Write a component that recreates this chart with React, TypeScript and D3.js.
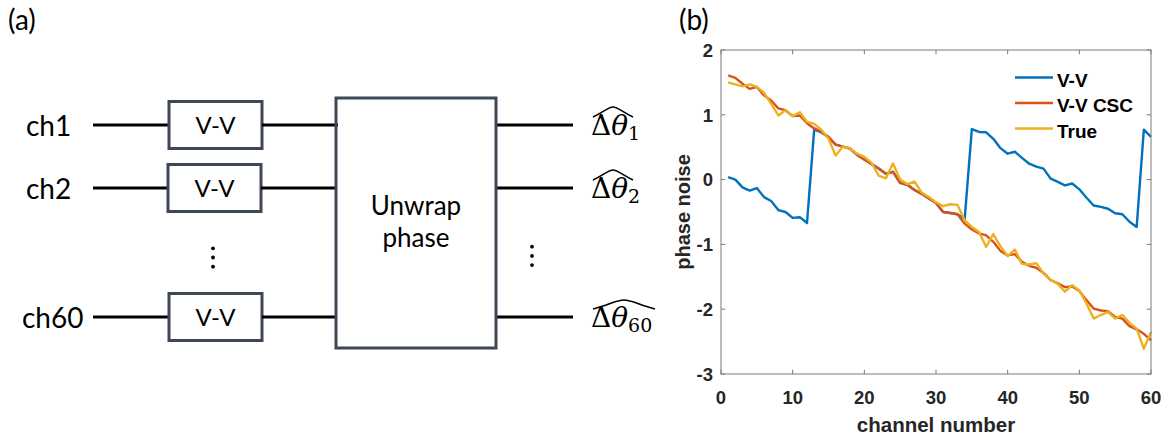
import React from "react";
import * as d3 from "d3";

// Phase-noise estimates per channel (radians)
const channelNumbers = d3.range(1, 61);

const vvPhase = [
  0.04, 0.0, -0.12, -0.17, -0.13, -0.27, -0.33, -0.47, -0.5, -0.59,
  -0.58, -0.67, 0.77, 0.73, 0.65, 0.54, 0.51, 0.48, 0.38, 0.31,
  0.24, 0.17, 0.09, 0.12, -0.05, -0.08, -0.16, -0.22, -0.29, -0.36,
  -0.5, -0.515, -0.535, -0.61, 0.78, 0.735, 0.73, 0.63, 0.485, 0.4,
  0.43, 0.335, 0.245, 0.2, 0.17, 0.015, -0.035, -0.09, -0.06, -0.15,
  -0.28, -0.4, -0.42, -0.45, -0.52, -0.535, -0.65, -0.73, 0.77, 0.66,
];

const vvCscPhase = [
  1.61, 1.57, 1.48, 1.4, 1.43, 1.3, 1.22, 1.1, 1.07, 0.98,
  0.99, 0.87, 0.79, 0.74, 0.66, 0.54, 0.51, 0.48, 0.38, 0.31,
  0.24, 0.17, 0.09, 0.12, -0.05, -0.08, -0.16, -0.22, -0.29, -0.36,
  -0.5, -0.515, -0.535, -0.68, -0.77, -0.83, -0.86, -0.96, -1.1, -1.17,
  -1.15, -1.27, -1.33, -1.36, -1.44, -1.55, -1.6, -1.66, -1.65, -1.72,
  -1.86, -1.99, -2.02, -2.03, -2.12, -2.145, -2.26, -2.31, -2.38, -2.48,
];

const truePhase = [
  1.5, 1.47, 1.44, 1.47, 1.43, 1.34, 1.17, 0.99, 1.07, 0.98,
  1.04, 0.89, 0.86, 0.77, 0.63, 0.37, 0.51, 0.48, 0.4, 0.35,
  0.26, 0.06, 0.02, 0.25, 0.0, -0.07, -0.03, -0.2, -0.27, -0.35,
  -0.41, -0.38, -0.39, -0.63, -0.73, -0.81, -1.04, -0.84, -1.03, -1.18,
  -1.08, -1.3, -1.31, -1.29, -1.45, -1.55, -1.61, -1.73, -1.63, -1.71,
  -1.91, -2.145, -2.09, -2.04, -2.145, -2.09, -2.21, -2.3, -2.61, -2.35,
];

const seriesNames = ["V-V", "V-V CSC", "True"];
const seriesColors = ["#0072BD", "#D95319", "#EDB120"];
const xTicks = [0, 10, 20, 30, 40, 50, 60];
const yTicks = [-3, -2, -1, 0, 1, 2];

// Block diagram labels
const inputLabels = ["ch1", "ch2", "ch60"];
const outputSubscripts = ["1", "2", "60"];

const W = 1169;
const H = 436;

const plot = { left: 721, right: 1151, top: 50, bottom: 374 };

const chartFont = "'Liberation Sans', Arial, sans-serif";
const diagramFont = "Lato, 'Open Sans', sans-serif";
const mathFont = "'DejaVu Serif', 'Liberation Serif', serif";

function Hat({ x0, x1, yb, yt }: { x0: number; x1: number; yb: number; yt: number }) {
  const xm = (x0 + x1) / 2;
  const w = x1 - x0;
  const d = `M${x0},${yb} C${x0 + w * 0.25},${yb - (yb - yt) * 0.45} ${xm - w * 0.12},${yt} ${xm},${yt} C${xm + w * 0.12},${yt} ${x1 - w * 0.25},${yb - (yb - yt) * 0.45} ${x1},${yb}`;
  return <path d={d} fill="none" stroke="#000" strokeWidth={1.6} />;
}

function Diagram() {
  const rowsY = [125, 188, 317];
  const inputX = [26, 26, 22];
  const boxX = [169, 168, 169];
  const boxW = 93;
  const boxH = 47;
  const big = { x: 336, y: 98, w: 160, h: 250 };
  const outEnd = 573;
  const hatWidths = [40, 40, 62];
  const edge = "#3E4756";
  return (
    <g>
      <text x={8} y={30} fontFamily={diagramFont} fontSize={28}>(a)</text>
      {rowsY.map((y, i) => (
        <g key={i}>
          <text x={inputX[i]} y={y + 10.5} fontFamily={diagramFont} fontSize={28}>
            {inputLabels[i]}
          </text>
          <line x1={93} x2={boxX[i]} y1={y} y2={y} stroke="#000" strokeWidth={3} />
          <rect x={boxX[i]} y={y - boxH / 2} width={boxW} height={boxH} fill="#fff" stroke={edge} strokeWidth={3} />
          <text x={boxX[i] + boxW / 2} y={y + 8.8} textAnchor="middle" fontFamily={diagramFont} fontSize={24}>
            V-V
          </text>
          <line x1={boxX[i] + boxW} x2={i === 0 ? 338 : big.x} y1={y} y2={y} stroke="#000" strokeWidth={3} />
          <line x1={big.x + big.w} x2={outEnd} y1={y} y2={y} stroke="#000" strokeWidth={3} />
          <text x={591} y={y + 10} fontFamily={mathFont} fontSize={28}>
            <tspan>Δ</tspan>
            <tspan fontStyle="italic">θ</tspan>
            <tspan fontSize={19} dy={5}>{outputSubscripts[i]}</tspan>
          </text>
          <Hat x0={593} x1={593 + hatWidths[i]} yb={y - 8} yt={y - (i === 2 ? 17 : 18)} />
        </g>
      ))}
      <rect x={big.x} y={big.y} width={big.w} height={big.h} fill="none" stroke={edge} strokeWidth={3} />
      <text x={big.x + big.w / 2} y={215} textAnchor="middle" fontFamily={diagramFont} fontSize={26}>Unwrap</text>
      <text x={big.x + big.w / 2} y={247} textAnchor="middle" fontFamily={diagramFont} fontSize={26}>phase</text>
      {[0, 1, 2].map((k) => (
        <circle key={"l" + k} cx={213} cy={248.3 + k * 9.2} r={1.9} fill="#000" />
      ))}
      {[0, 1, 2].map((k) => (
        <circle key={"r" + k} cx={532} cy={246.7 + k * 9.2} r={1.9} fill="#000" />
      ))}
    </g>
  );
}

function PhaseChart() {
  const x = d3.scaleLinear().domain([0, 60]).range([plot.left, plot.right]);
  const y = d3.scaleLinear().domain([-3, 2]).range([plot.bottom, plot.top]);
  const line = d3
    .line<number>()
    .x((_, i) => x(channelNumbers[i]))
    .y((v) => y(v));
  const series = [vvPhase, vvCscPhase, truePhase];
  const axisColor = "#7a7a7a";
  const labelColor = "#262626";
  const tickLen = 4.3;
  return (
    <g>
      <text x={679} y={30} fontFamily={diagramFont} fontSize={28}>(b)</text>
      {series.map((s, i) => (
        <path key={i} d={line(s) || ""} fill="none" stroke={seriesColors[i]} strokeWidth={2.4} strokeLinejoin="round" />
      ))}
      {/* axes box */}
      <rect x={plot.left} y={plot.top} width={plot.right - plot.left} height={plot.bottom - plot.top} fill="none" stroke={axisColor} strokeWidth={1} />
      {xTicks.map((t) => (
        <g key={"x" + t}>
          <line x1={x(t)} x2={x(t)} y1={plot.bottom} y2={plot.bottom - tickLen} stroke={axisColor} />
          <line x1={x(t)} x2={x(t)} y1={plot.top} y2={plot.top + tickLen} stroke={axisColor} />
          <text x={x(t)} y={403.5} textAnchor="middle" fontFamily={chartFont} fontWeight="bold" fontSize={18.5} fill={labelColor}>
            {t}
          </text>
        </g>
      ))}
      {yTicks.map((t) => (
        <g key={"y" + t}>
          <line x1={plot.left} x2={plot.left + tickLen} y1={y(t)} y2={y(t)} stroke={axisColor} />
          <line x1={plot.right} x2={plot.right - tickLen} y1={y(t)} y2={y(t)} stroke={axisColor} />
          <text x={713} y={y(t) + 6.7} textAnchor="end" fontFamily={chartFont} fontWeight="bold" fontSize={18.5} fill={labelColor}>
            {t}
          </text>
        </g>
      ))}
      <text x={(plot.left + plot.right) / 2} y={431.5} textAnchor="middle" fontFamily={chartFont} fontWeight="bold" fontSize={20.5} fill={labelColor}>
        channel number
      </text>
      <text transform={`translate(690, ${(plot.top + plot.bottom) / 2}) rotate(-90)`} textAnchor="middle" fontFamily={chartFont} fontWeight="bold" fontSize={20} fill={labelColor}>
        phase noise
      </text>
      {/* legend */}
      {seriesNames.map((name, i) => {
        const ly = 77.5 + i * 25.5;
        return (
          <g key={name}>
            <line x1={1015} x2={1053} y1={ly} y2={ly} stroke={seriesColors[i]} strokeWidth={2.4} />
            <text x={1057} y={ly + 9.2} fontFamily={chartFont} fontWeight="bold" fontSize={19} fill="#000">
              {name}
            </text>
          </g>
        );
      })}
    </g>
  );
}

export default function App() {
  return (
    <svg
      width={W}
      height={H}
      viewBox={`0 0 ${W} ${H}`}
      style={{ position: "absolute", left: 0, top: 0, display: "block", background: "#fff" }}
    >
      <rect width={W} height={H} fill="#fff" />
      <Diagram />
      <PhaseChart />
    </svg>
  );
}
